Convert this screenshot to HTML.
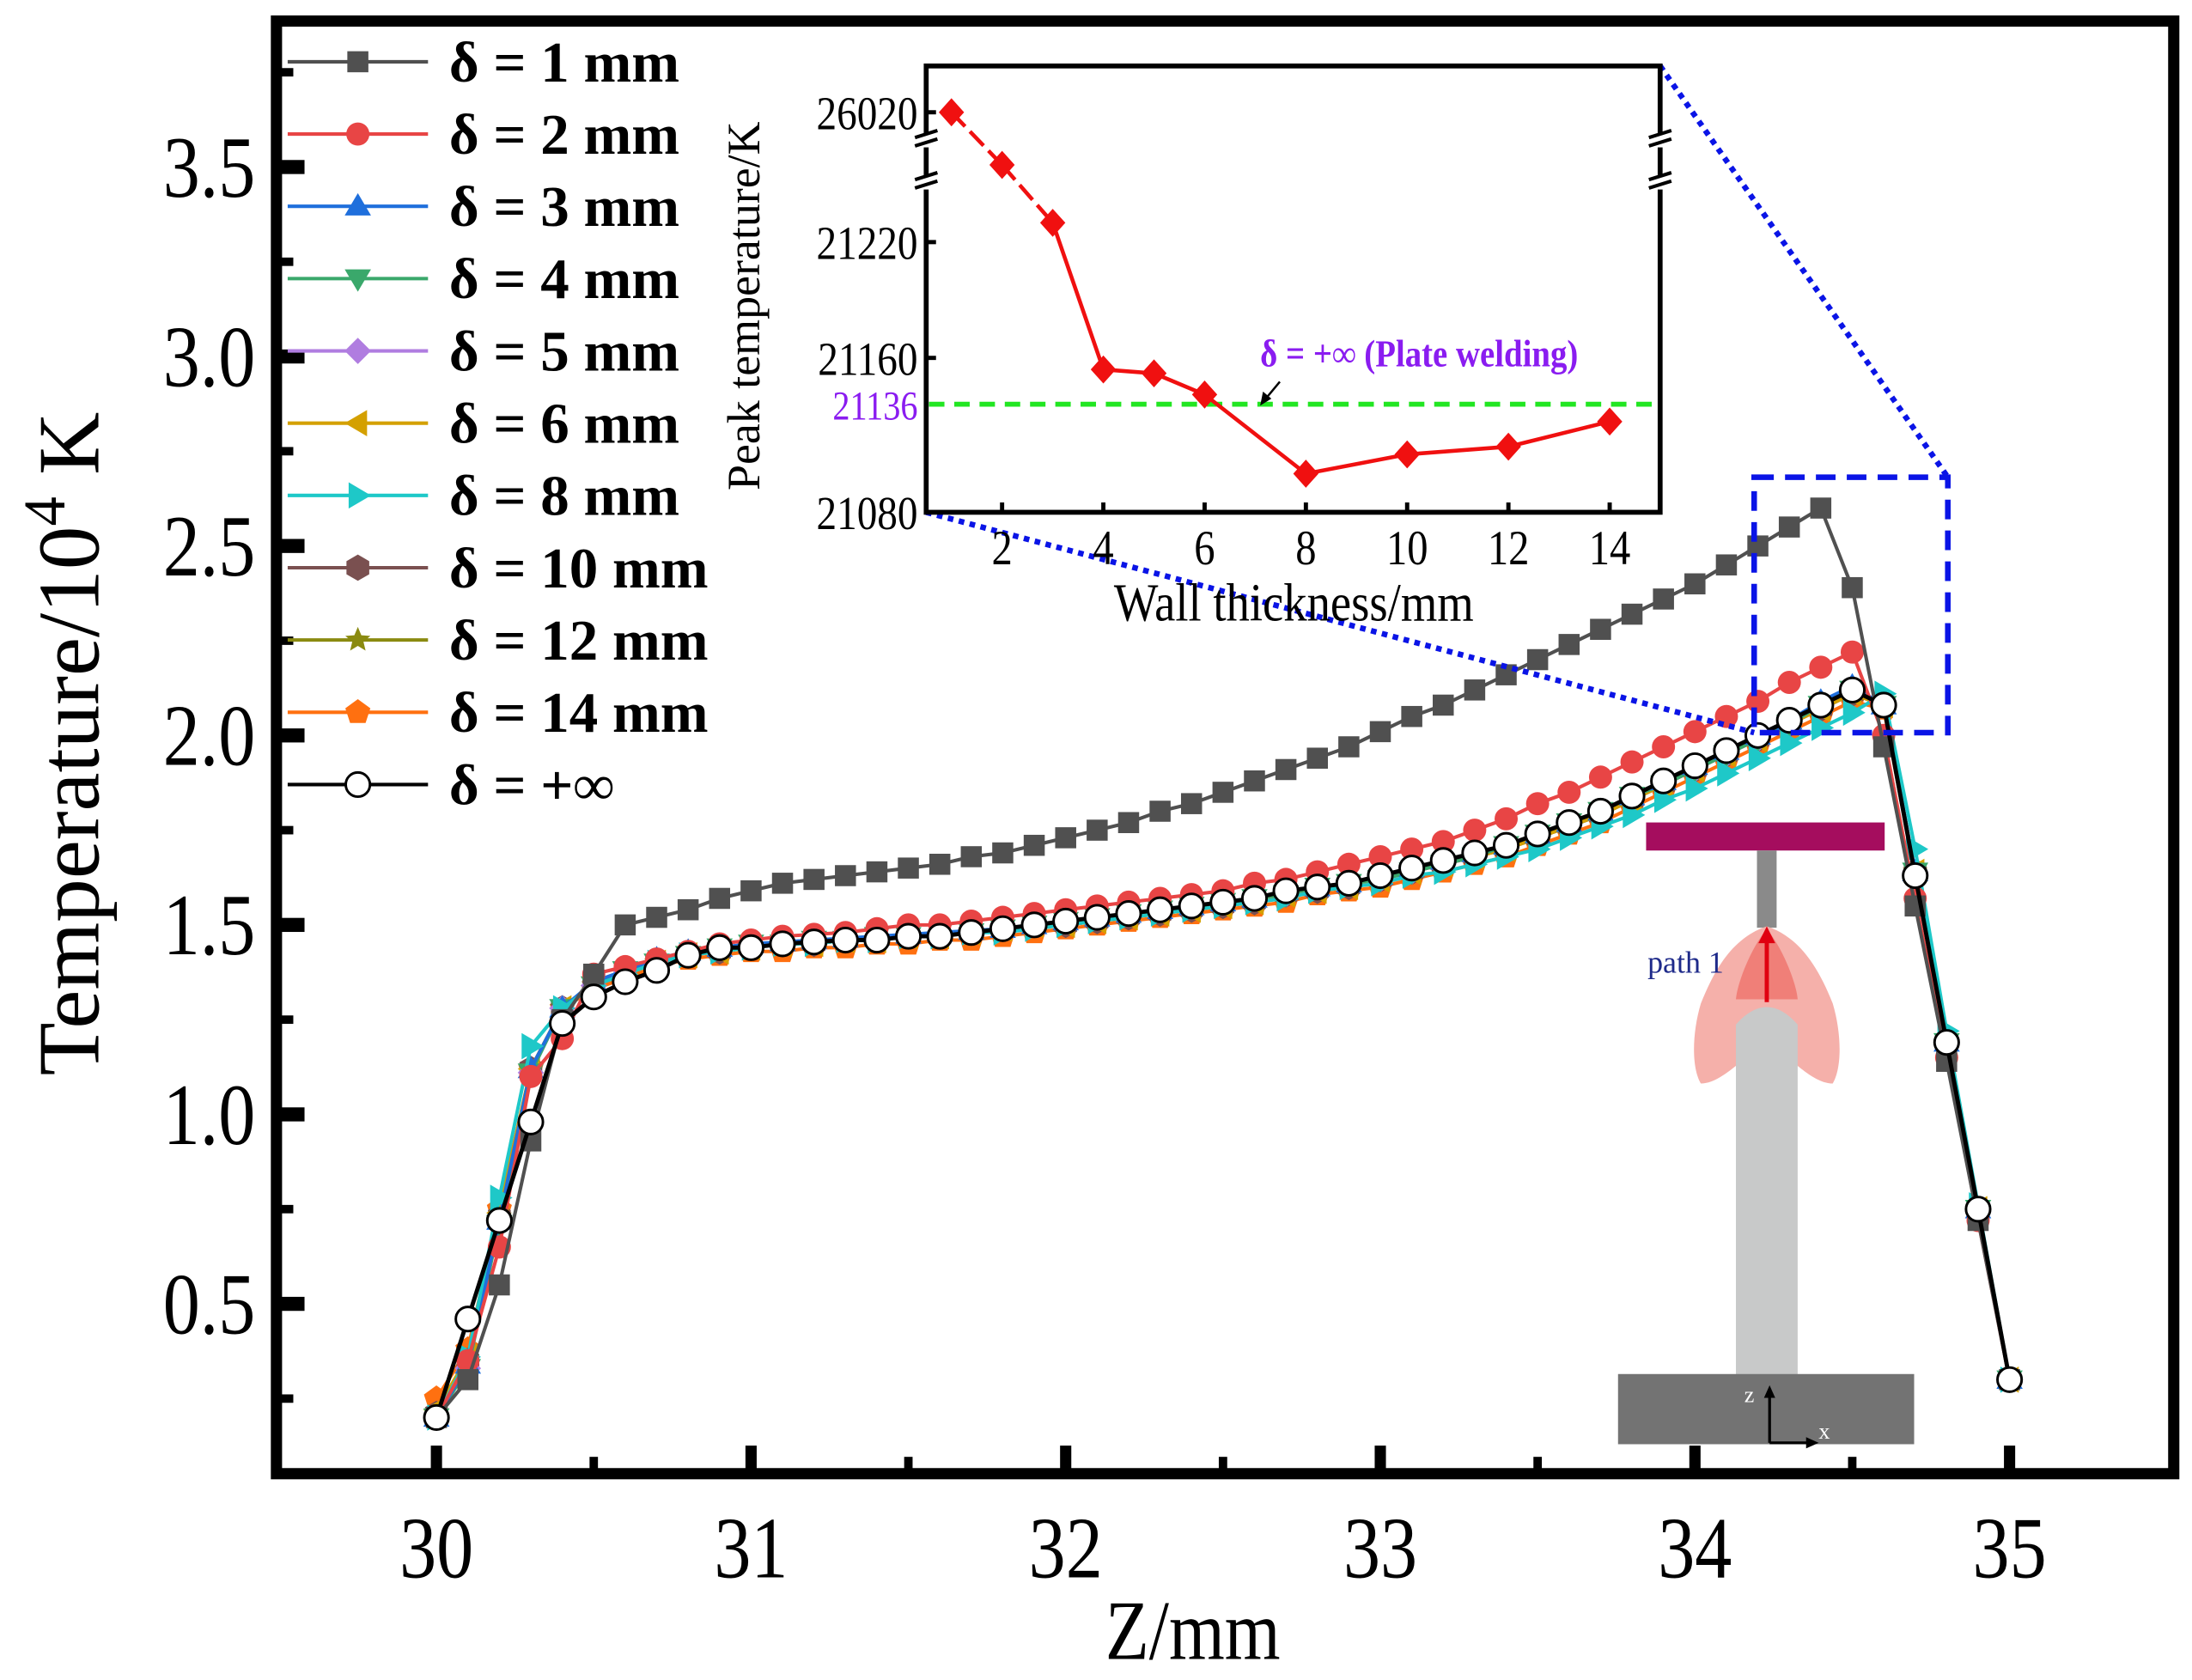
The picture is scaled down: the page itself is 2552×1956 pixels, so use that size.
<!DOCTYPE html>
<html><head><meta charset="utf-8">
<style>
html,body{margin:0;padding:0;background:#fff;}
svg{display:block;}
text{font-family:"Liberation Serif","DejaVu Serif",serif;}
</style></head>
<body>
<svg id="chart" xmlns="http://www.w3.org/2000/svg" width="2552" height="1956" viewBox="0 0 1562 1197" preserveAspectRatio="none">
<rect x="0" y="0" width="1562" height="1197" fill="#fff"/>
<g id="series-layer"></g>
<g id="axes-layer"></g>
<g id="legend-layer"></g>
<g id="schematic">
  <rect x="1173" y="586" width="170" height="20" fill="#a50d5e"/>
  <rect x="1252" y="606" width="14" height="55" fill="#8a8a8a"/>
  <path d="M1259 660 C1235 668 1222 690 1212 715 C1206 735 1205 760 1212 772 C1225 772 1240 757 1259 740 C1278 757 1293 772 1306 772 C1313 760 1312 735 1306 715 C1296 690 1283 668 1259 660Z" fill="#f5b0aa"/>
  <path d="M1259 662 C1248 675 1238 700 1237 712 L1281 712 C1280 700 1270 675 1259 662Z" fill="#f07f78"/>
  <path d="M1237 980 L1237 730 Q1259 705 1281 730 L1281 980Z" fill="#c8c9c9"/>
  <line x1="1259" y1="714" x2="1259" y2="668" stroke="#e00010" stroke-width="3"/>
  <polygon points="1259,660 1253,672 1265,672" fill="#e00010"/>
  <text x="1174" y="693" font-size="22" fill="#1e2a8a">path 1</text>
  <rect x="1153" y="979" width="211" height="50" fill="#737373"/>
  <line x1="1261" y1="1028" x2="1261" y2="992" stroke="#000" stroke-width="2"/>
  <polygon points="1261,987 1257,996 1265,996"/>
  <line x1="1261" y1="1028" x2="1290" y2="1028" stroke="#000" stroke-width="2"/>
  <polygon points="1296,1028 1287,1024 1287,1032"/>
  <text x="1243" y="999" font-size="16" fill="#fff">z</text>
  <text x="1296" y="1025" font-size="16" fill="#fff">x</text>
</g>
<g id="zoom-guides">
  <line x1="1183" y1="47" x2="1388" y2="340" stroke="#0a14e6" stroke-width="4" stroke-dasharray="4 4"/>
  <line x1="660" y1="365" x2="1250" y2="522" stroke="#0a14e6" stroke-width="4" stroke-dasharray="4 4"/>
  <rect x="1250" y="340" width="138" height="182" fill="none" stroke="#0a14e6" stroke-width="4" stroke-dasharray="14 8"/>
</g>
<g id="inset"></g>
</svg>
<script>
// ---------- main chart data ----------
const zValues = [30,30.1,30.2,30.3,30.4,30.5,30.6,30.7,30.8,30.9,31,31.1,31.2,31.3,31.4,31.5,31.6,31.7,31.8,31.9,32,32.1,32.2,32.3,32.4,32.5,32.6,32.7,32.8,32.9,33,33.1,33.2,33.3,33.4,33.5,33.6,33.7,33.8,33.9,34,34.1,34.2,34.3,34.4,34.5,34.6,34.7,34.8,34.9,35];
const tD1  = [0.20,0.30,0.55,0.93,1.25,1.37,1.50,1.52,1.54,1.57,1.59,1.61,1.62,1.63,1.64,1.65,1.66,1.68,1.69,1.71,1.73,1.75,1.77,1.80,1.82,1.85,1.88,1.91,1.94,1.97,2.01,2.05,2.08,2.12,2.16,2.20,2.24,2.28,2.32,2.36,2.40,2.45,2.50,2.55,2.60,2.39,1.97,1.55,1.14,0.72,0.30];
const tD2  = [0.20,0.35,0.65,1.10,1.20,1.37,1.39,1.41,1.43,1.45,1.46,1.47,1.475,1.48,1.49,1.50,1.50,1.51,1.52,1.53,1.54,1.55,1.56,1.57,1.58,1.59,1.61,1.62,1.64,1.66,1.68,1.70,1.72,1.75,1.78,1.82,1.85,1.89,1.93,1.97,2.01,2.05,2.09,2.14,2.18,2.22,2.00,1.57,1.15,0.72,0.30];
const tD3  = [0.20,0.34,0.72,1.12,1.28,1.35,1.38,1.41,1.43,1.44,1.45,1.455,1.46,1.465,1.47,1.475,1.48,1.485,1.49,1.50,1.51,1.52,1.53,1.54,1.55,1.56,1.57,1.59,1.60,1.61,1.63,1.65,1.67,1.69,1.71,1.74,1.77,1.80,1.84,1.88,1.92,1.96,2.00,2.04,2.09,2.13,2.08,1.64,1.19,0.75,0.30];
const tD4  = [0.20,0.33,0.71,1.11,1.28,1.34,1.38,1.40,1.42,1.44,1.45,1.45,1.46,1.46,1.47,1.47,1.48,1.48,1.49,1.50,1.51,1.52,1.53,1.54,1.55,1.56,1.57,1.58,1.60,1.61,1.62,1.64,1.66,1.68,1.71,1.74,1.77,1.80,1.84,1.87,1.91,1.95,1.99,2.03,2.08,2.12,2.08,1.64,1.19,0.75,0.30];
const tD5  = [0.20,0.33,0.71,1.11,1.28,1.34,1.38,1.40,1.42,1.44,1.45,1.45,1.46,1.46,1.47,1.47,1.48,1.48,1.49,1.50,1.51,1.52,1.53,1.54,1.55,1.56,1.57,1.58,1.60,1.61,1.62,1.64,1.66,1.68,1.71,1.74,1.77,1.80,1.84,1.87,1.91,1.95,1.99,2.03,2.08,2.12,2.08,1.64,1.19,0.75,0.30];
const tD6  = [0.22,0.36,0.74,1.12,1.28,1.34,1.37,1.40,1.42,1.43,1.44,1.45,1.45,1.46,1.46,1.47,1.47,1.48,1.49,1.50,1.50,1.51,1.52,1.53,1.54,1.55,1.56,1.58,1.59,1.60,1.62,1.64,1.66,1.68,1.70,1.73,1.76,1.79,1.83,1.87,1.91,1.95,1.99,2.03,2.07,2.11,2.08,1.64,1.19,0.75,0.30];
const tD8  = [0.20,0.36,0.78,1.18,1.28,1.34,1.37,1.40,1.42,1.43,1.44,1.45,1.45,1.46,1.46,1.47,1.47,1.48,1.48,1.49,1.50,1.51,1.52,1.53,1.54,1.55,1.56,1.57,1.59,1.60,1.61,1.63,1.64,1.66,1.68,1.70,1.73,1.76,1.79,1.83,1.86,1.90,1.94,1.98,2.02,2.06,2.11,1.70,1.22,0.76,0.30];
const tD10 = [0.21,0.35,0.73,1.12,1.28,1.34,1.37,1.40,1.42,1.43,1.44,1.45,1.45,1.46,1.46,1.47,1.47,1.48,1.49,1.50,1.50,1.51,1.52,1.53,1.54,1.55,1.56,1.58,1.59,1.60,1.62,1.64,1.66,1.68,1.70,1.73,1.76,1.79,1.83,1.87,1.91,1.95,1.99,2.03,2.07,2.11,2.08,1.64,1.19,0.75,0.30];
const tD12 = [0.21,0.35,0.73,1.12,1.28,1.34,1.37,1.40,1.42,1.43,1.44,1.45,1.45,1.46,1.46,1.47,1.47,1.48,1.49,1.50,1.50,1.51,1.52,1.53,1.54,1.55,1.56,1.58,1.59,1.60,1.62,1.64,1.66,1.68,1.70,1.73,1.76,1.79,1.83,1.87,1.91,1.95,1.99,2.03,2.07,2.11,2.08,1.64,1.19,0.75,0.30];
const tD14 = [0.25,0.38,0.75,1.12,1.28,1.33,1.36,1.39,1.41,1.42,1.43,1.43,1.44,1.44,1.45,1.45,1.46,1.46,1.47,1.48,1.49,1.50,1.51,1.52,1.53,1.54,1.55,1.56,1.58,1.59,1.60,1.62,1.64,1.66,1.68,1.71,1.74,1.77,1.81,1.85,1.89,1.93,1.97,2.01,2.05,2.09,2.07,1.63,1.19,0.75,0.30];
const tInf = [0.20,0.46,0.72,0.98,1.24,1.31,1.35,1.38,1.42,1.44,1.44,1.45,1.455,1.46,1.46,1.47,1.47,1.48,1.49,1.50,1.51,1.52,1.53,1.54,1.55,1.56,1.57,1.59,1.60,1.61,1.63,1.65,1.67,1.69,1.71,1.74,1.77,1.80,1.84,1.88,1.92,1.96,2.00,2.04,2.08,2.12,2.08,1.63,1.19,0.75,0.30];
const seriesLabels = ["δ = 1 mm","δ = 2 mm","δ = 3 mm","δ = 4 mm","δ = 5 mm","δ = 6 mm","δ = 8 mm","δ = 10 mm","δ = 12 mm","δ = 14 mm","δ = +∞"];
const xTickLabels = ["30","31","32","33","34","35"];
const yTickLabels = ["0.5","1.0","1.5","2.0","2.5","3.0","3.5"];

// ---------- inset data ----------
const insetThickness = [1,2,3,4,5,6,8,10,12,14];
const insetPeak = [26020,21260,21230,21154,21152,21141,21100,21110,21114,21127];
const insetXTicks = ["2","4","6","8","10","12","14"];
const insetYTicks = ["21080","21160","21220","26020"];
const plateValue = 21136;

const NS = "http://www.w3.org/2000/svg";
function mk(tag, attrs, parent){const e=document.createElementNS(NS,tag);for(const k in attrs)e.setAttribute(k,attrs[k]);if(parent)parent.appendChild(e);return e;}

const PL=197,PT=15,PR=1549,PB=1050;
function xs(z){return 311+(z-30)*224.2;}
function ys(v){return 929-(v-0.5)*270;}

const styles=[
 {c:"#505050",m:"square"},{c:"#e84545",m:"circle"},{c:"#1f6fdc",m:"tri"},{c:"#3aa86b",m:"dtri"},
 {c:"#b07de0",m:"diamond"},{c:"#d4a000",m:"ltri"},{c:"#1ec8c8",m:"rtri"},{c:"#7a5050",m:"hex"},
 {c:"#8a8a10",m:"star"},{c:"#ff7010",m:"pent"},{c:"#000",m:"open"}
];
const allSeries=[tD1,tD2,tD3,tD4,tD5,tD6,tD8,tD10,tD12,tD14,tInf];

function marker(g,type,x,y,c,s){
  let e;
  if(type==="square") e=mk("rect",{x:x-s,y:y-s,width:2*s,height:2*s,fill:c},g);
  else if(type==="circle") e=mk("circle",{cx:x,cy:y,r:s*1.1,fill:c},g);
  else if(type==="open") e=mk("circle",{cx:x,cy:y,r:s*1.15,fill:"#fff",stroke:"#000","stroke-width":1.8},g);
  else {
    let pts;
    const r=s*1.25;
    if(type==="tri") pts=[[0,-r],[r,r*0.7],[-r,r*0.7]];
    else if(type==="dtri") pts=[[0,r],[r,-r*0.7],[-r,-r*0.7]];
    else if(type==="ltri") pts=[[-r,0],[r*0.7,-r],[r*0.7,r]];
    else if(type==="rtri") pts=[[r,0],[-r*0.7,-r],[-r*0.7,r]];
    else if(type==="diamond") pts=[[0,-r],[r,0],[0,r],[-r,0]];
    else if(type==="hex"){pts=[];for(let i=0;i<6;i++){const a=Math.PI/6+i*Math.PI/3;pts.push([r*Math.cos(a),r*Math.sin(a)]);}}
    else if(type==="pent"){pts=[];for(let i=0;i<5;i++){const a=-Math.PI/2+i*2*Math.PI/5;pts.push([r*Math.cos(a),r*Math.sin(a)]);}}
    else if(type==="star"){pts=[];for(let i=0;i<10;i++){const a=-Math.PI/2+i*Math.PI/5;const rr=i%2?r*0.45:r;pts.push([rr*Math.cos(a),rr*Math.sin(a)]);}}
    e=mk("polygon",{points:pts.map(p=>(x+p[0])+","+(y+p[1])).join(" "),fill:c},g);
  }
  return e;
}

const sl=document.getElementById("series-layer");
const order=[9,8,7,5,4,3,2,6,1,0,10];
order.forEach(si=>{
  const st=styles[si],vals=allSeries[si];
  const g=mk("g",{},sl);
  
  
  const pl=mk("polyline",{points:vals.map((v,i)=>xs(zValues[i])+","+ys(v)).join(" "),fill:"none",stroke:st.c,"stroke-width":si===10?3:2.5},g);
  
  
  vals.forEach((v,i)=>{
    const m=marker(g,st.m,xs(zValues[i]),ys(v),st.c,7.5);
    
    
  });
});

const ax=document.getElementById("axes-layer");
const frame=mk("rect",{x:PL,y:PT,width:PR-PL,height:PB-PT,fill:"none",stroke:"#000","stroke-width":8},ax);


xTickLabels.forEach((t,i)=>{
  const z=30+i,x=xs(z);
  mk("rect",{x:x-4,y:PB-20,width:8,height:20,fill:"#000"},ax);
  if(i<5) mk("rect",{x:xs(z+0.5)-3,y:PB-12,width:6,height:12,fill:"#000"},ax);
  const tx=mk("text",{x:0,y:0,"font-size":62,"text-anchor":"middle",transform:`translate(${x},1124) scale(0.85,1)`},ax);
  tx.textContent=t;
  
  
});
yTickLabels.forEach((t,i)=>{
  const v=0.5+i*0.5,y=ys(v);
  mk("rect",{x:PL,y:y-5,width:20,height:10,fill:"#000"},ax);
  mk("rect",{x:PL,y:ys(v-0.25)-3,width:12,height:6,fill:"#000"},ax);
  const tx=mk("text",{x:0,y:0,"font-size":62,"text-anchor":"end",transform:`translate(182,${y+21}) scale(0.85,1)`},ax);
  tx.textContent=t;
  
  
});
mk("rect",{x:PL,y:ys(3.75)-3,width:12,height:6,fill:"#000"},ax);
const xt=mk("text",{x:0,y:0,"font-size":60,"text-anchor":"middle",transform:"translate(850,1182) scale(0.85,1)"},ax);
xt.textContent="Z/mm";


const yt=mk("text",{x:0,y:0,"font-size":62,"text-anchor":"middle",transform:"translate(70,530) rotate(-90)"},ax);
yt.innerHTML='Temperature/10<tspan dy="-24" font-size="42">4</tspan><tspan dy="24"> K</tspan>';



const lg=document.getElementById("legend-layer");
seriesLabels.forEach((lab,i)=>{
  const y=44+i*51.5,st=styles[i];
  const g=mk("g",{},lg);
  
  
  mk("line",{x1:205,y1:y,x2:305,y2:y,stroke:st.c,"stroke-width":2.5},g);
  marker(g,st.m,255,y,st.c,7.5);
  const t=mk("text",{x:320,y:y+14,"font-size":41,"font-weight":"bold"},g);
  t.textContent=lab;
});

const ins=document.getElementById("inset");
const IL=660,IT=47,IR=1183,IB=365;
function ix(t){return 678+(t-1)*36.08;}
function iy(v){ if(v<25000) return 365-(v-21080)*1.375; return 80-(v-26020)*0.05; }
mk("rect",{x:IL,y:IT,width:IR-IL,height:IB-IT,fill:"#fff",stroke:"#000","stroke-width":3.5},ins);
[IL,IR].forEach(xx=>{[100,130].forEach(by=>{
  mk("rect",{x:xx-6,y:by-5,width:12,height:10,fill:"#fff"},ins);
  mk("line",{x1:xx-8,y1:by-2,x2:xx+8,y2:by-7,stroke:"#000","stroke-width":2.5},ins);
  mk("line",{x1:xx-8,y1:by+4,x2:xx+8,y2:by-1,stroke:"#000","stroke-width":2.5},ins);
});});
insetXTicks.forEach(t=>{
  const x=ix(+t);
  mk("line",{x1:x,y1:IB,x2:x,y2:IB-7,stroke:"#000","stroke-width":3},ins);
  const tx=mk("text",{x:0,y:0,"font-size":35,"text-anchor":"middle",transform:`translate(${x},402) scale(0.85,1)`},ins);
  tx.textContent=t;
  
  
});
insetYTicks.forEach(t=>{
  const y=iy(+t);
  mk("line",{x1:IL,y1:y,x2:IL+7,y2:y,stroke:"#000","stroke-width":3},ins);
  const tx=mk("text",{x:0,y:0,"font-size":34,"text-anchor":"end",transform:`translate(654,${y+12}) scale(0.85,1)`},ins);
  tx.textContent=t;
  
  
});
const pv=mk("text",{x:0,y:0,"font-size":29,"text-anchor":"end",fill:"#8a1cf0",transform:`translate(654,${iy(plateValue)+11}) scale(0.85,1)`},ins);
pv.textContent=String(plateValue);


const gl=mk("line",{x1:IL+2,y1:iy(plateValue),x2:IR-2,y2:iy(plateValue),stroke:"#22e622","stroke-width":3.5,"stroke-dasharray":"11 7"},ins);


for(let i=0;i<insetThickness.length-1;i++){
  const seg=mk("line",{x1:ix(insetThickness[i]),y1:iy(insetPeak[i]),x2:ix(insetThickness[i+1]),y2:iy(insetPeak[i+1]),stroke:"#f01010","stroke-width":2.8},ins);
  if(i<2) seg.setAttribute("stroke-dasharray","14 5");
  
  
}
insetThickness.forEach((t,i)=>{
  const x=ix(t),y=iy(insetPeak[i]);
  const d=mk("polygon",{points:`${x},${y-10} ${x+9},${y} ${x},${y+10} ${x-9},${y}`,fill:"#f01010"},ins);
  
  
});
const ann=mk("text",{x:0,y:0,"font-size":27,"font-weight":"bold",fill:"#8a1cf0",transform:"translate(898,261) scale(0.88,1)"},ins);
ann.textContent="δ = +∞ (Plate welding)";


mk("line",{x1:912,y1:272,x2:902,y2:284,stroke:"#000","stroke-width":1.5},ins);
mk("polygon",{points:"898,289 900,279 906,284"},ins);
const ixt=mk("text",{x:0,y:0,"font-size":38,"text-anchor":"middle",transform:"translate(922,442) scale(0.88,1)"},ins);
ixt.textContent="Wall thickness/mm";


const iyt=mk("text",{x:0,y:0,"font-size":33,"text-anchor":"middle",transform:"translate(541,218) rotate(-90)"},ins);
iyt.textContent="Peak temperature/K";


</script>
</body></html>
